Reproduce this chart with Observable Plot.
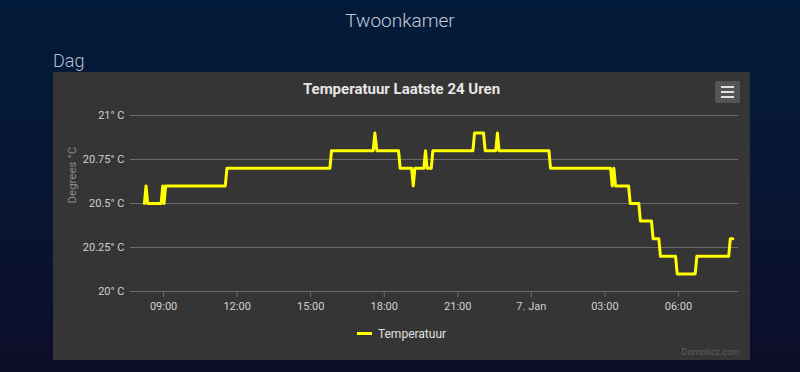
<!DOCTYPE html>
<html>
<head>
<meta charset="utf-8">
<script src="https://cdn.jsdelivr.net/npm/d3@7"></script>
<script src="https://cdn.jsdelivr.net/npm/@observablehq/plot@0.6"></script>
<style>
  html, body { margin: 0; padding: 0; }
  body {
    width: 800px; height: 372px; overflow: hidden; position: relative;
    background: linear-gradient(180deg, #031b3a 0%, #071634 50%, #0d0d29 100%);
    font-family: Roboto, "Noto Sans", sans-serif;
  }
  #page-title { position: absolute; left: 0; width: 800px; top: 9px; text-align: center;
    color: #c5cad6; font-size: 19px; font-weight: 300; font-family: "Roboto Light", Roboto, sans-serif; }
  #section { position: absolute; left: 53px; top: 50px; color: #b9bfcc; font-size: 18px; font-weight: 300; font-family: "Roboto Light", Roboto, sans-serif; }
  #panel { position: absolute; left: 53px; top: 72px; width: 697px; height: 288px; background: #353535; }
  #chart-title { position: absolute; left: 0; width: 697px; top: 8px; text-align: center;
    color: #e6e6e6; font-size: 15px; font-weight: bold; }
  #menu { position: absolute; left: 662px; top: 9px; width: 25px; height: 22px; background: #555555; border-radius: 2px; }
  #menu div { position: absolute; left: 6px; width: 13px; height: 2px; background: #e0e0e0; }
  #chart { position: absolute; left: 0; top: 0; }
  #legend { position: absolute; left: 0; width: 697px; top: 255px; text-align: center; color: #e0e0e0; font-size: 12px; }
  #legend span.sym { display: inline-block; width: 15px; height: 3px; background: #ffff00; vertical-align: middle; margin-right: 6px; position: relative; top: -1px; }
  #credit { position: absolute; right: 10px; top: 275px; color: #5f5f5f; font-size: 9px; }
</style>
</head>
<body>
<div id="page-title">Twoonkamer</div>
<div id="section">Dag</div>
<div id="panel">
  <div id="chart"></div>
  <div id="chart-title">Temperatuur Laatste 24 Uren</div>
  <div id="menu"><div style="top:5px"></div><div style="top:10px"></div><div style="top:15px"></div></div>
  <div id="legend"><span class="sym"></span>Temperatuur</div>
  <div id="credit">Domoticz.com</div>
</div>
<script>
const seriesName = "Temperatuur";
const times = [
  "2020-01-06 08:13","2020-01-06 08:17","2020-01-06 08:21","2020-01-06 08:54","2020-01-06 08:58",
  "2020-01-06 09:01","2020-01-06 09:05","2020-01-06 11:31","2020-01-06 11:35","2020-01-06 15:47",
  "2020-01-06 15:51","2020-01-06 17:33","2020-01-06 17:37","2020-01-06 17:42","2020-01-06 18:35",
  "2020-01-06 18:39","2020-01-06 19:07","2020-01-06 19:11","2020-01-06 19:15","2020-01-06 19:37",
  "2020-01-06 19:41","2020-01-06 19:45","2020-01-06 19:55","2020-01-06 19:59","2020-01-06 21:37",
  "2020-01-06 21:41","2020-01-06 22:03","2020-01-06 22:07","2020-01-06 22:33","2020-01-06 22:37",
  "2020-01-06 22:41","2020-01-07 00:43","2020-01-07 00:47","2020-01-07 03:14","2020-01-07 03:18",
  "2020-01-07 03:22","2020-01-07 03:26","2020-01-07 03:58","2020-01-07 04:02","2020-01-07 04:23",
  "2020-01-07 04:27","2020-01-07 04:54","2020-01-07 04:58","2020-01-07 05:12","2020-01-07 05:16",
  "2020-01-07 05:53","2020-01-07 05:57","2020-01-07 06:41","2020-01-07 06:45","2020-01-07 08:03",
  "2020-01-07 08:07","2020-01-07 08:13"
];
const temps = [
  20.5, 20.6, 20.5, 20.5, 20.6,
  20.5, 20.6, 20.6, 20.7, 20.7,
  20.8, 20.8, 20.9, 20.8, 20.8,
  20.7, 20.7, 20.6, 20.7, 20.7,
  20.8, 20.7, 20.7, 20.8, 20.8,
  20.9, 20.9, 20.8, 20.8, 20.9,
  20.8, 20.8, 20.7, 20.7, 20.6,
  20.7, 20.6, 20.6, 20.5, 20.5,
  20.4, 20.4, 20.3, 20.3, 20.2,
  20.2, 20.1, 20.1, 20.2, 20.2,
  20.3, 20.3
];
const xTicks = ["2020-01-06 09:00","2020-01-06 12:00","2020-01-06 15:00","2020-01-06 18:00",
  "2020-01-06 21:00","2020-01-07 00:00","2020-01-07 03:00","2020-01-07 06:00"];
const yTicks = [20, 20.25, 20.5, 20.75, 21];
const xDomain = ["2020-01-06 07:39","2020-01-07 08:27"];
const yDomain = [20, 21];
const yLabel = "Degrees °C";

const parse = d3.timeParse("%Y-%m-%d %H:%M");
const data = times.map((t, i) => ({time: parse(t), temp: temps[i]}));
const fmtTime = d3.timeFormat("%H:%M");

const chart = Plot.plot({
  width: 697,
  height: 240,
  marginLeft: 77,
  marginRight: 12,
  marginTop: 43,
  marginBottom: 21,
  style: {background: "transparent", color: "#cccccc", fontSize: "11px", fontFamily: "Roboto, sans-serif", overflow: "visible"},
  x: {type: "time", domain: xDomain.map(parse)},
  y: {domain: yDomain},
  marks: [
    Plot.gridY(yTicks, {stroke: "#6a6a6a", strokeOpacity: 1, strokeWidth: 1}),
    Plot.axisY(yTicks, {tickSize: 0, tickPadding: 6, tickFormat: d => `${d}° C`, label: null, fill: "#d0d0d0", fontSize: 11}),
    Plot.text([yLabel], {frameAnchor: "left", dx: -58, rotate: -90, fill: "#8a8a8a", fontSize: 11.5}),
    Plot.axisX(xTicks.map(parse), {tickSize: 6, tickPadding: 5, stroke: "#6a6a6a", fill: "#d0d0d0", fontSize: 11, label: null,
      tickFormat: d => d.getHours() === 0 ? `${d.getDate()}. Jan` : fmtTime(d)}),
    Plot.lineY(data, {x: "time", y: "temp", stroke: "#ffff00", strokeWidth: 3, strokeLinejoin: "round", strokeLinecap: "round"})
  ]
});
document.getElementById("chart").appendChild(chart);
</script>
</body>
</html>
